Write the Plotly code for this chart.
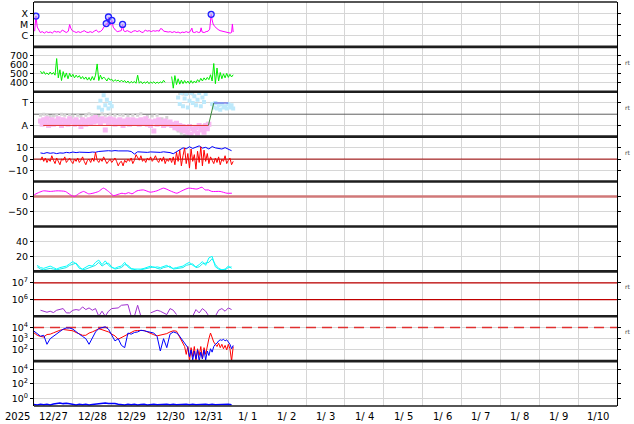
import numpy as np
import pandas as pd
import plotly.graph_objects as go

START = pd.Timestamp("2025-12-27 00:00")
END = pd.Timestamp("2026-01-11 00:00")

# ---------------- data ----------------
# Panel 1: X-ray flux (W/m2)
xray_hours = [0.4, 1.2, 2.0, 3.0, 3.9, 5.1, 6.4, 7.6, 8.8, 10.1,
              11.3, 12.5, 13.8, 15.0, 16.2, 17.5, 18.7, 19.9, 21.2, 22.0,
              22.7, 23.6, 24.9, 26.1, 27.3, 28.6, 29.8, 31.0, 32.3, 33.5,
              34.7, 36.0, 37.2, 38.4, 39.7, 40.9, 42.1, 43.1, 44.0, 44.6,
              45.2, 46.0, 46.8, 47.4, 48.1, 48.9, 50.2, 51.4, 52.6, 53.9,
              54.7, 55.3, 56.3, 57.6, 58.8, 60.0, 61.3, 62.5, 63.7, 65.0,
              66.2, 67.4, 68.7, 69.9, 71.1, 72.4, 73.6, 74.8, 76.1, 77.3,
              78.2, 79.2, 80.1, 81.6, 82.9, 84.1, 85.3, 86.6, 87.8, 89.0,
              90.3, 91.5, 92.7, 94.0, 95.2, 96.4, 97.5, 98.0, 99.2, 100.4,
              101.7, 102.6, 103.2, 103.8, 105.1, 106.3, 107.5, 108.5, 109.0, 109.4,
              110.0, 110.6, 111.6, 112.5, 113.7, 114.9, 116.2, 117.4, 118.6, 119.9,
              121.1, 122.0, 122.5, 123.0]
xray_flux = [2.5e-6, 5.6e-5, 5.8e-6, 2.8e-6, 1.9e-6, 2.3e-6, 1.7e-6, 2.3e-6, 1.9e-6, 2.1e-6,
             1.7e-6, 2.5e-6, 2.1e-6, 2.3e-6, 1.9e-6, 3.2e-6, 2.3e-6, 1.9e-6, 2.5e-6, 9.8e-6,
             4.7e-6, 2.8e-6, 2.3e-6, 1.9e-6, 2.3e-6, 1.9e-6, 2.3e-6, 2.8e-6, 2.1e-6, 1.9e-6,
             2.3e-6, 1.9e-6, 2.5e-6, 3.2e-6, 2.1e-6, 2.3e-6, 3.2e-6, 5.8e-6, 7.1e-6, 1.2e-5,
             8.7e-6, 4.6e-5, 1.1e-5, 8.7e-6, 2.3e-5, 5.8e-6, 3.2e-6, 2.3e-6, 2.5e-6, 2.8e-6,
             1.0e-5, 2.8e-6, 2.3e-6, 2.8e-6, 2.3e-6, 1.9e-6, 2.5e-6, 2.8e-6, 2.3e-6, 2.8e-6,
             2.1e-6, 1.9e-6, 3.2e-6, 2.5e-6, 2.8e-6, 2.3e-6, 2.8e-6, 2.5e-6, 2.8e-6, 2.5e-6,
             4.3e-6, 3.8e-6, 2.5e-6, 2.3e-6, 2.1e-6, 2.3e-6, 1.9e-6, 2.3e-6, 1.9e-6, 2.1e-6,
             1.7e-6, 2.1e-6, 1.9e-6, 2.3e-6, 1.9e-6, 2.3e-6, 4.7e-6, 2.1e-6, 1.9e-6, 2.3e-6,
             1.9e-6, 2.1e-6, 5.0e-6, 2.1e-6, 1.9e-6, 2.3e-6, 2.5e-6, 3.8e-6, 1.6e-5, 7.9e-5,
             2.5e-5, 1.1e-5, 6.5e-6, 4.7e-6, 3.5e-6, 2.8e-6, 2.5e-6, 2.1e-6, 1.9e-6, 1.7e-6,
             1.7e-6, 1.9e-6, 1.1e-5, 2.1e-6]
flare_hours = [1.2, 44.6, 46.0, 48.1, 54.7, 109.4]
flare_flux = [5.6e-5, 1.2e-5, 4.6e-5, 2.3e-5, 1.0e-5, 7.9e-5]
xray_ticks = [1e-4, 1e-5, 1e-6]
xray_labels = ["X", "M", "C"]

# Panel 2: solar wind speed (km/s), hourly from hour 4
speed_first_hour = 4
speed = [530, 500, 525, 495, 510, 490, 520, 495, 515, 485,
         670, 455, 545, 425, 525, 460, 510, 445, 505, 465,
         495, 455, 485, 460, 480, 445, 470, 440, 465, 430,
         460, 425, 470, 430, 485, 610, 425, 485, 440, 465,
         445, 420, 455, 430, 440, 415, 435, 420, 430, 410,
         430, 410, 425, 400, 420, 395, 415, 400, 415, 395,
         485, 395, 415, 390, 410, 395, 415, 390, 410, 395,
         412, 392, 408, 395, 410, 398, 428, 405, None, None,
         None, 470, 340, 480, 380, 445, 385, 430, 390, 425,
         395, 420, 390, 425, 395, 420, 400, 435, 410, 450,
         420, 455, 430, 460, 435, 490, 420, 615, 390, 565,
         420, 515, 445, 500, 455, 505, 460, 495, 465, 490]
speed_ticks = [400, 500, 600, 700]

# Panel 3: IMF sector (T / A), hourly from hour 4
sector_first_hour = 4
sector_pink = [-0.6, -0.9, -0.5, -0.8, -0.4, -1.0, -0.7, -0.5, -0.9, -0.6,
               -0.8, -0.4, -0.7, -1.0, -0.5, -0.8, -0.6, -0.9, -0.4, -0.7,
               -0.6, -0.9, -0.5, -0.8, -0.7, -1.1, -0.5, -0.7, -0.9, -0.6,
               -0.5, -0.8, -0.4, -0.7, -0.3, -0.6, -0.5, -0.8, -0.4, -0.6,
               -1.4, -0.5, -0.8, -0.4, -0.7, -0.5, -0.9, -0.6, -0.8, -0.5,
               -0.7, -1.0, -0.6, -0.8, -0.5, -0.9, -0.7, -0.5, -0.8, -0.6,
               -0.6, -0.9, -0.5, -0.8, -0.7, -0.4, -0.9, -0.6, -1.0, -0.7,
               -1.5, -0.6, -0.9, -0.5, -0.8, -0.7, -1.0, -0.6, -0.9, -0.8,
               -0.7, -1.0, -0.9, -1.2, -0.8, -1.3, -1.0, -1.4, -1.1, -1.5,
               -1.2, -1.6, -1.1, -1.8, -1.3, -1.5, -1.2, -1.7, -1.0, -1.4,
               -1.2, -1.6, -1.0, -1.3, -0.9]
sector_grey = [-0.1, None, 0.0, None, -0.1, None, -0.2, None, -0.15, None,
               -0.1, None, None, 0.0, None, -0.1, None, None, -0.05, None,
               -0.15, None, None, -0.1, None, -0.2, None, None, -0.1, None,
               0.05, None, -0.1, None, -0.15, None, -0.2, None, 0.05, None,
               -0.1, None, None, 0.0, None, None, -0.1, None, None, -0.05,
               None, -0.1, None, None, -0.15, None, None, -0.1, None, None,
               -0.1, None, 0.05, None, None, None, -0.2, None, None, -0.15,
               None, None, -0.1, None, None, -0.4, None, None, -0.3, None,
               None, -0.9, None, -1.2, None, -1.5, None, -1.7, None, -1.9,
               None, -1.8, None, -1.9, None, -1.4, None, -1.1, None, -1.3,
               None, -1.0, None, -0.8, None]
grey_hi_first_hour = 90
sector_grey_hi = [1.85, None, 1.8, 1.9, None, 1.85, None, None, 1.8, None]
lightblue_hours = list(range(40, 49)) + list(range(89, 107)) + list(range(110, 124))
sector_lightblue = [0.6, 1.2, 0.4, 1.7, 0.8, 1.3, 0.5, 1.0, 0.7,
                    1.5, 0.9, 1.9, 0.7, 1.4, 1.8, 0.6, 1.2, 1.9, 1.0, 1.6, 0.8, 1.3, 1.9, 0.7, 1.5, 1.1, 1.8,
                    0.9, 0.6, 1.0, 0.5, 0.8, 0.4, 0.9, 0.6, 0.7, 0.5, 0.9, 0.6, 0.8, 0.5]
model_hours = [5.7, 107.7, 111.0, 120.0]
model_sector = [-1, -1, 1, 1]
sector_ticks = [1, -1]
sector_labels = ["T", "A"]

# Panel 4: IMF Bt (blue, 2-hourly from hour 4) and Bz (red, hourly from hour 4)  [nT]
bt_first_hour = 4
bt = [5.5, 5.0, 5.8, 5.2, 5.6, 4.9, 5.5, 5.3, 6.0, 5.6,
      6.3, 5.8, 6.2, 6.0, 6.4, 5.9, 6.3, 6.1, 6.8, 7.2,
      7.0, 7.5, 7.2, 7.6, 7.3, 7.4, 7.0, 7.3, 6.8, 4.5,
      6.5, 6.3, 6.6, 6.0, 6.4, 6.1, 6.3, 6.0, 6.5, 6.2,
      5.8, 4.8, 6.5, 8.5, 10.0, 9.2, 11.0, 9.5, 10.8, 11.8,
      9.8, 10.5, 9.0, 11.2, 10.0, 9.5, 9.0, 10.2, 9.2, 7.5]
bz_first_hour = 4
bz = [-1, 2, -2, 1, -3, 0, -2, 3, -1, -4,
      1, -2, -5, 0, -1, 2, -3, -1, 1, -2,
      -4, 0, -2, 1, -3, -1, 2, -2, -5, -1,
      0, -3, 1, -2, 6, -1, -3, 0, -2, 2,
      -1, -4, -2, 0, -3, -1, 1, -2, -6, -3,
      -2, -6, -1, -3, 0, -2, 1, -4, -1, 4,
      2, -1, 3, -2, 0, -3, 1, -1, 2, -2,
      0, 3, -1, -3, 1, -2, 2, -4, 0, -2,
      1, -3, 2, -5, 6, -2, 8, -6, 3, 10,
      -4, 5, -8, 9, -2, 4, -9, 7, -3, 11,
      -6, 8, -2, 5, -4, 2, -1, -4, 1, -3,
      2, -5, 0, -2, 3, -4, -1, 1, -5, -2]
imf_ticks = [10, 0, -10]
imf_labels = ["10", "0", "\u221210"]

# Panel 5: Dst-like index (nT)
dst_hours = [0.2, 2.8, 5.9, 10.1, 14.2, 19.3, 22.4, 24.9, 27.5, 30.6,
             33.7, 36.4, 39.9, 42.9, 46.0, 49.1, 51.2, 54.3, 56.3, 58.4,
             60.5, 63.6, 67.6, 71.8, 75.9, 80.0, 84.1, 88.2, 91.3, 95.4,
             100.6, 103.7, 105.7, 107.7, 109.8, 114.9, 119.1, 122.2]
dst = [6, 13, 19, 17, 19, 17, 6, 0, 9, 17,
       9, 11, 17, 28, 17, 3, 6, 11, 9, 13,
       9, 19, 22, 14.5, 19, 28, 19, 11, 19, 28,
       25, 31, 22, 22, 17, 17, 11, 11]
dst_ticks = [0, -50]
dst_labels = ["0", "\u221250"]

# Panel 6: two cyan indices, 2-hourly from hour 2
cyan_first_hour = 2
cyan_a = [8, 5, 4, 5, 7, 5, 3, 5, 6, 7,
          10, 13, 10, 4, 3, 5, 8, 7, 12, 15,
          9, 14, 8, 5, 4, 6, 7, 12, 6, 3,
          3, 2, 3, 4, 6, 7, 5, 6, 5, 7,
          8, 5, 4, 5, 6, 7, 10, 12, 8, 6,
          9, 13, 8, 18, 20, 6, 3, 2, 3, 7,
          4]
cyan_b = [6, 3, 2, 3, 4, 3, 2, 3, 4, 5,
          8, 10, 11, 6, 2, 3, 5, 6, 8, 12,
          7, 10, 11, 6, 3, 4, 5, 9, 8, 4,
          2, 1, 2, 3, 4, 5, 6, 4, 3, 5,
          6, 7, 3, 4, 5, 5, 8, 9, 10, 5,
          6, 10, 11, 12, 17, 9, 4, 2, 2, 5,
          6]
cyan_ticks = [20, 40]

# Panel 7: purple flux (log10), 2-hourly from hour 2
purple_first_hour = 2
purple_log10 = [None, 5.36, 5.3, 5.24, 5.3, 5.22, 5.36, 5.4, 5.46, 5.2,
                5.2, 5.36, 5.4, 5.36, 5.56, 5.4, 5.5, 5.36, 5.46, 5.0,
                5.3, 5.0, 5.3, 5.46, 5.5, 5.5, 5.66, 5.7, 5.7, 5.0,
                5.0, 5.66, 5.0, None, None, 5.2, 5.3, 5.36, 5.3, 5.2,
                5.1, 5.46, 5.36, 5.1, None, None, None, None, 5.0, 5.4,
                5.2, 5.46, 5.3, 5.0, None, 5.0, 5.36, 5.46, 5.3, 5.5,
                5.4]
purple_thresholds = [1e6, 1e7]
purple_ticks = [1e7, 1e6]

# Panel 8: electron fluxes (log10): 2-hourly from hour 0 to 88, then hourly from hour 88
electron_first_hour = 0
electron_blue_log10 = [3.67, 3.4, 3.22, 3.3, 2.5, 3.0, 3.2, 3.4, 3.65, 3.85,
                       3.95, 3.95, 3.85, 3.6, 3.4, 3.2, 3.0, 2.5, 3.1, 3.6,
                       3.9, 4.0, 4.06, 3.85, 3.3, 2.8, 3.0, 2.4, 2.2, 3.5,
                       3.4, 3.55, 3.6, 3.75, 3.7, 3.65, 3.6, 3.5, 3.2, 1.9,
                       3.0, 2.2, 3.4, 3.6, 3.5]
electron_red_log10 = [3.52, 3.3, 3.2, 3.15, 3.37, 3.4, 3.52, 3.65, 3.75, 3.82,
                      3.8, 3.75, 3.7, 3.55, 3.4, 3.3, 3.3, 3.5, 3.6, 3.75,
                      3.88, 3.8, 3.7, 3.6, 3.4, 3.25, 2.95, 3.1, 3.25, 3.45,
                      3.6, 3.7, 3.73, 3.75, 3.73, 3.6, 3.45, 3.35, 3.25, 3.3,
                      3.35, 3.45, 3.6, 3.7, 3.67]
electron_late_first_hour = 88
electron_blue_late_log10 = [3.5, 3.4, 3.2, 3.0, 2.9, 2.7, 2.5, 2.2, 1.4, 2.0,
                            1.1, 1.9, 1.2, 2.0, 1.0, 1.8, 1.2, 2.0, 1.1, 1.9,
                            1.5, 2.1, 1.8, 2.3, 2.5, 2.6, 2.8, 2.9, 2.85, 2.95,
                            2.8, 2.9, 2.7, 2.5, 2.1, 2.4]
electron_red_late_log10 = [3.67, 3.4, 3.1, 2.8, 2.5, 2.3, 1.6, 2.3, 1.0, 2.2,
                           1.4, 2.3, 1.0, 2.1, 1.5, 2.3, 1.2, 2.2, 1.6, 2.5,
                           3.0, 3.5, 3.1, 2.7, 2.5, 2.3, 2.6, 2.2, 2.5, 2.1,
                           2.4, 2.0, 2.5, 2.1, 1.0, 2.3]
electron_threshold = [1e4]
electron_ticks = [1e4, 1e3, 1e2]

# Panel 9: proton flux (log10), 2-hourly from hour 0
proton_first_hour = 0
proton_log10 = [-0.85, -0.9, -0.8, -0.88, -0.82, -0.9, -0.78, -0.7, -0.65, -0.72,
                -0.68, -0.75, -0.85, -0.9, -0.82, -0.88, -0.8, -0.9, -0.85, -0.8,
                -0.75, -0.68, -0.65, -0.7, -0.66, -0.72, -0.8, -0.85, -0.9, -0.82,
                -0.88, -0.8, -0.9, -0.85, -0.82, -0.9, -0.86, -0.8, -0.88, -0.84,
                -0.9, -0.82, -0.86, -0.8, -0.88, -0.84, -0.9, -0.82, -0.86, -0.8,
                -0.88, -0.84, -0.9, -0.82, -0.86, -0.8, -0.88, -0.84, -0.9, -0.85,
                -0.82, -0.88]
proton_ticks = [1e4, 1e2, 1e0]

day_labels = ["12/27", "12/28", "12/29", "12/30", "12/31", "1/ 1", "1/ 2", "1/ 3",
              "1/ 4", "1/ 5", "1/ 6", "1/ 7", "1/ 8", "1/ 9", "1/10"]
year_label = "2025"
rt_panels = [2, 3, 4, 7, 8]


# ---------------- helpers ----------------
def at(hours):
    return [START + pd.Timedelta(hours=float(h)) for h in hours]


def regular(first_hour, step_hours, values):
    return [START + pd.Timedelta(hours=first_hour + step_hours * i) for i in range(len(values))]


def pow10(values):
    return np.power(10.0, np.array(values, dtype=float))


NP = 9
fig = go.Figure()
SPAN = [START, END]


def add(x, y, ax, **kw):
    fig.add_trace(go.Scatter(x=x, y=y, xaxis="x", yaxis=ax, hoverinfo="skip",
                             showlegend=False, **kw))


# Panel 1
add(at(xray_hours), xray_flux, "y", mode="lines", line=dict(color="#ff00ff", width=1))
add(at(flare_hours), flare_flux, "y", mode="markers",
    marker=dict(symbol="circle", size=6, color="rgba(170,170,255,0.55)",
                line=dict(color="#2020ff", width=1.3)))

# Panel 2
add(regular(speed_first_hour, 1, speed), speed, "y2", mode="lines",
    line=dict(color="#00ee00", width=1), connectgaps=False)

# Panel 3
add(SPAN, [0, 0], "y3", mode="lines", line=dict(color="#606060", width=1))
add(regular(sector_first_hour, 1, sector_grey), sector_grey, "y3", mode="markers",
    marker=dict(color="#d4d4d4", size=3, symbol="square"))
add(regular(grey_hi_first_hour, 1, sector_grey_hi), sector_grey_hi, "y3", mode="markers",
    marker=dict(color="#d4d4d4", size=3, symbol="square"))
add(regular(sector_first_hour, 1, sector_pink), sector_pink, "y3", mode="markers",
    marker=dict(color="#f8b8f2", size=5, symbol="square"))
add(at(lightblue_hours), sector_lightblue, "y3", mode="markers",
    marker=dict(color="#bde9fb", size=4, symbol="square"))
add(at(model_hours[0:2]), model_sector[0:2], "y3", mode="lines", line=dict(color="#e03030", width=1))
add(at(model_hours[1:3]), model_sector[1:3], "y3", mode="lines", line=dict(color="#3c8c3c", width=1))
add(at(model_hours[2:4]), model_sector[2:4], "y3", mode="lines", line=dict(color="#5050e0", width=1.2))

# Panel 4
add(SPAN, [0, 0], "y4", mode="lines", line=dict(color="#a00000", width=1))
add(regular(bt_first_hour, 2, bt), bt, "y4", mode="lines", line=dict(color="#0000ff", width=1))
add(regular(bz_first_hour, 1, bz), bz, "y4", mode="lines", line=dict(color="#ff0000", width=1))

# Panel 5
add(SPAN, [0, 0], "y5", mode="lines", line=dict(color="#d07878", width=2.5))
add(at(dst_hours), dst, "y5", mode="lines", line=dict(color="#ff00ff", width=1, shape="spline", smoothing=0.6))

# Panel 6
add(regular(cyan_first_hour, 2, cyan_b), cyan_b, "y6", mode="lines", line=dict(color="#22e8e8", width=1))
add(regular(cyan_first_hour, 2, cyan_a), cyan_a, "y6", mode="lines", line=dict(color="#00ffff", width=1))

# Panel 7
for thr in purple_thresholds:
    add(SPAN, [thr, thr], "y7", mode="lines", line=dict(color="#c00000", width=1.2))
add(regular(purple_first_hour, 2, purple_log10), pow10(purple_log10), "y7", mode="lines",
    line=dict(color="#a030d0", width=1), connectgaps=False)

# Panel 8
add(SPAN, [electron_threshold[0]] * 2, "y8", mode="lines",
    line=dict(color="#e03030", width=1.5, dash="10px,6px"))
add(regular(electron_first_hour, 2, electron_red_log10), pow10(electron_red_log10), "y8",
    mode="lines", line=dict(color="#ff0000", width=1))
add(regular(electron_late_first_hour, 1, electron_red_late_log10), pow10(electron_red_late_log10), "y8",
    mode="lines", line=dict(color="#ff0000", width=1))
add(regular(electron_first_hour, 2, electron_blue_log10), pow10(electron_blue_log10), "y8",
    mode="lines", line=dict(color="#0000ff", width=1))
add(regular(electron_late_first_hour, 1, electron_blue_late_log10), pow10(electron_blue_late_log10), "y8",
    mode="lines", line=dict(color="#0000ff", width=1))

# Panel 9
add(regular(proton_first_hour, 2, proton_log10), pow10(proton_log10), "y9", mode="lines",
    line=dict(color="#0000ff", width=1.5))

# ---------------- axes ----------------
FONT = "DejaVu Sans"
common_y = dict(showgrid=True, gridcolor="#d6d6d6", gridwidth=1, zeroline=False,
                showline=True, linecolor="black", linewidth=1, mirror="ticks",
                ticks="outside", ticklen=3, tickcolor="black",
                tickfont=dict(family=FONT, size=9.5, color="black"), anchor="x",
                automargin=False)

yspecs = [
    dict(type="log", range=[-7, -3], tickvals=xray_ticks, ticktext=xray_labels),
    dict(range=[300, 800], tickvals=speed_ticks, ticktext=[str(v) for v in speed_ticks]),
    dict(range=[-2, 2], tickvals=sector_ticks, ticktext=sector_labels),
    dict(range=[-20, 20], tickvals=imf_ticks, ticktext=imf_labels),
    dict(range=[-100, 50], tickvals=dst_ticks, ticktext=dst_labels),
    dict(range=[0, 60], tickvals=cyan_ticks, ticktext=[str(v) for v in cyan_ticks]),
    dict(type="log", range=[5, 7.7], tickvals=purple_ticks,
         ticktext=["10<sup>%d</sup>" % round(np.log10(v)) for v in purple_ticks]),
    dict(type="log", range=[1, 5], tickvals=electron_ticks,
         ticktext=["10<sup>%d</sup>" % round(np.log10(v)) for v in electron_ticks]),
    dict(type="log", range=[-1.05, 5.17], tickvals=proton_ticks,
         ticktext=["10<sup>%d</sup>" % round(np.log10(v)) for v in proton_ticks]),
]

layout_axes = {}
for i, spec in enumerate(yspecs):
    name = "yaxis" if i == 0 else "yaxis%d" % (i + 1)
    d = dict(common_y)
    d.update(spec)
    d["domain"] = [1 - (i + 1) / NP, 1 - i / NP]
    layout_axes[name] = d

midnights = [START + pd.Timedelta(days=d) for d in range(1, 15)]
layout_axes["xaxis"] = dict(type="date", range=SPAN, domain=[0, 1], anchor="y9",
                            tickvals=midnights, showticklabels=False, showgrid=True,
                            gridcolor="#d6d6d6", gridwidth=1, ticks="", zeroline=False,
                            showline=False, automargin=False)

shapes = []
for i in range(1, NP):
    yb = 1 - i / NP
    shapes.append(dict(type="line", xref="paper", yref="paper", x0=0, x1=1, y0=yb, y1=yb,
                       line=dict(color="#1e1e1e", width=2.6)))
for yb in (0, 1):
    shapes.append(dict(type="line", xref="paper", yref="paper", x0=0, x1=1, y0=yb, y1=yb,
                       line=dict(color="#1e1e1e", width=1.3)))

annotations = []
for i, lab in enumerate(day_labels):
    annotations.append(dict(x=START + pd.Timedelta(hours=24 * i + 12), y=0, xref="x", yref="paper",
                            text=lab, showarrow=False, xanchor="center", yanchor="top", yshift=-3,
                            font=dict(family=FONT, size=10, color="black")))
annotations.append(dict(x=-0.029, y=0, xref="paper", yref="paper", text=year_label,
                        showarrow=False, xanchor="center", yanchor="top", yshift=-3,
                        font=dict(family=FONT, size=10, color="black")))
for p in rt_panels:
    annotations.append(dict(x=1.0, xshift=10, y=0.78, xref="paper", yref="y%d domain" % p,
                            text="rt", showarrow=False, xanchor="center",
                            font=dict(family=FONT, size=6, color="#444444")))

fig.update_layout(width=634, height=424, margin=dict(l=34, r=17, t=2, b=18),
                  paper_bgcolor="white", plot_bgcolor="white", showlegend=False,
                  font=dict(family=FONT, size=10, color="black"),
                  shapes=shapes, annotations=annotations, **layout_axes)

fig.write_html("out.html", config={"displayModeBar": False},
               post_script="document.body.style.margin='0px';")
